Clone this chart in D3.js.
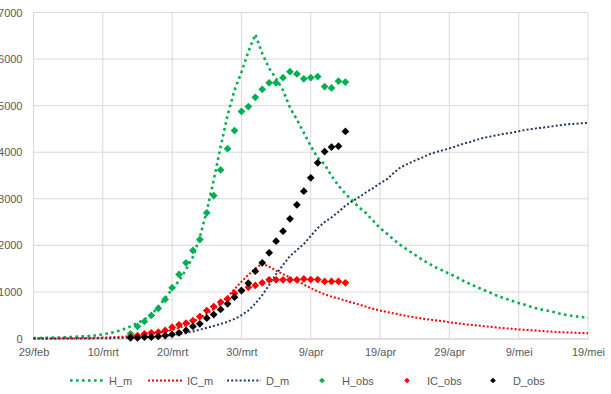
<!DOCTYPE html>
<html>
<head>
<meta charset="utf-8">
<script src="https://cdn.jsdelivr.net/npm/d3@7/dist/d3.min.js"></script>
<style>
  body { margin: 0; background: #fff; }
  svg text { font-family: "Liberation Sans", Arial, sans-serif; font-size: 11px; fill: #595959; }
</style>
</head>
<body>
<svg id="chart"></svg>
<script>
// model series, one value per day starting 29/feb
var H_m = [10, 12, 15, 18, 22, 28, 35, 45, 55, 70,
  90, 115, 150, 200, 260, 330, 410, 510, 680, 870,
  1060, 1240, 1480, 1750, 2180, 2740, 3400, 4120, 4790, 5330,
  5720, 6160, 6530, 6120, 5800, 5580, 5330, 4960, 4700, 4420,
  4130, 3880, 3740, 3490, 3280, 3110, 2960, 2810, 2690, 2530,
  2370, 2250, 2120, 2000, 1900, 1800, 1700, 1610, 1530, 1460,
  1390, 1320, 1240, 1170, 1100, 1040, 980, 910, 860, 810,
  760, 720, 670, 630, 600, 570, 530, 500, 480, 460, 450];
var IC_m = [0, 0, 0, 2, 3, 5, 7, 9, 12, 15,
  20, 25, 32, 40, 50, 62, 78, 98, 120, 150,
  185, 230, 290, 360, 440, 530, 630, 740, 900, 1060,
  1220, 1370, 1500, 1610, 1540, 1460, 1380, 1310, 1240, 1160,
  1080, 1010, 950, 900, 860, 815, 770, 730, 680, 640,
  600, 570, 540, 510, 480, 455, 430, 410, 390, 370,
  350, 330, 310, 295, 280, 265, 250, 235, 220, 210,
  195, 185, 175, 165, 155, 145, 135, 130, 125, 118, 112];
var D_m = [0, 0, 0, 0, 0, 0, 0, 1, 2, 3,
  5, 7, 10, 14, 19, 25, 33, 42, 52, 62,
  75, 95, 120, 150, 190, 230, 270, 310, 360, 420,
  500, 600, 750, 930, 1150, 1380, 1580, 1770, 1900, 2030,
  2200, 2370, 2500, 2600, 2720, 2850, 2950, 3040, 3140, 3230,
  3330, 3420, 3560, 3680, 3750, 3820, 3880, 3950, 4000, 4040,
  4080, 4130, 4180, 4220, 4270, 4310, 4340, 4370, 4400, 4420,
  4450, 4480, 4500, 4520, 4540, 4560, 4580, 4600, 4610, 4620, 4630];

// observations, one value per day starting 14/mrt
var obsStart = 14;
var H_obs = [100, 260, 365, 495, 645, 840, 1090, 1375, 1625, 1890,
  2125, 2700, 3070, 3620, 4075, 4465, 4875, 4980, 5180, 5350,
  5490, 5490, 5600, 5730, 5680, 5575, 5600, 5625, 5410, 5380, 5525, 5505];
var IC_obs = [43, 64, 100, 122, 136, 172, 243, 294, 330, 386,
  472, 600, 687, 780, 852, 973, 1030, 1100, 1140, 1195,
  1260, 1260, 1260, 1260, 1260, 1280, 1265, 1265, 1225, 1225, 1225, 1195];
var D_obs = [15, 15, 30, 30, 43, 64, 86, 122, 172, 258,
  315, 436, 515, 623, 745, 887, 1030, 1188, 1445, 1625,
  1840, 2090, 2305, 2570, 2870, 3163, 3450, 3773, 4015, 4110, 4130, 4445];

var xTicks = [0, 10, 20, 30, 40, 50, 60, 70, 80];
var xTickLabels = ["29/feb", "10/mrt", "20/mrt", "30/mrt", "9/apr", "19/apr", "29/apr", "9/mei", "19/mei"];
var yTicks = [0, 1000, 2000, 3000, 4000, 5000, 6000, 7000];

var width = 611, height = 394;

var svg = d3.select("#chart")
  .attr("width", width)
  .attr("height", height);

var x = d3.scaleLinear().domain([0, 80]).range([33.5, 588]);
var y = d3.scaleLinear().domain([0, 7000]).range([338.5, 12.5]);

// grid
svg.append("g")
  .selectAll("line.h")
  .data(yTicks.slice(1))
  .enter().append("line")
  .attr("x1", x(0)).attr("x2", x(80))
  .attr("y1", function(d) { return y(d); })
  .attr("y2", function(d) { return y(d); })
  .style("stroke", "#d9d9d9");

svg.append("g")
  .selectAll("line.v")
  .data(xTicks)
  .enter().append("line")
  .attr("x1", function(d) { return x(d); })
  .attr("x2", function(d) { return x(d); })
  .attr("y1", y(7000)).attr("y2", y(0))
  .style("stroke", "#d9d9d9");

// axes
var yAxis = svg.append("g")
  .attr("transform", "translate(" + x(0) + ",0)")
  .call(d3.axisLeft(y).tickValues(yTicks).tickSize(0).tickPadding(11).tickFormat(d3.format("d")));
yAxis.select(".domain").remove();

var xAxis = svg.append("g")
  .attr("transform", "translate(0," + y(0) + ")")
  .call(d3.axisBottom(x).tickValues(xTicks).tickSize(0).tickPadding(10)
    .tickFormat(function(d, i) { return xTickLabels[i]; }));
xAxis.select(".domain").style("stroke", "#bfbfbf");
svg.selectAll(".tick text").style("font-family", "Liberation Sans, Arial, sans-serif").style("font-size", "11px").style("fill", "#595959");

// model lines
var line = d3.line()
  .x(function(d, i) { return x(i); })
  .y(function(d) { return y(d); });

var models = [
  { name: "H_m", values: H_m, color: "#00b050", w: 2.6, dash: "2.6,3.4" },
  { name: "IC_m", values: IC_m, color: "#ff0000", w: 2, dash: "2,2" },
  { name: "D_m", values: D_m, color: "#203864", w: 2, dash: "2,2.2" }
];

models.forEach(function(m) {
  svg.append("path")
    .datum(m.values)
    .attr("d", line)
    .style("fill", "none")
    .style("stroke", m.color)
    .style("stroke-width", m.w)
    .style("stroke-dasharray", m.dash);
});

// observations as diamonds
var diamond = d3.symbol().type(d3.symbolSquare).size(30);
var obs = [
  { name: "H_obs", values: H_obs, color: "#00b050" },
  { name: "IC_obs", values: IC_obs, color: "#ff0000" },
  { name: "D_obs", values: D_obs, color: "#000000" }
];

obs.forEach(function(o) {
  svg.append("g")
    .selectAll("path")
    .data(o.values)
    .enter().append("path")
    .attr("d", diamond)
    .attr("transform", function(d, i) { return "translate(" + x(obsStart + i) + "," + y(d) + ") rotate(45)"; })
    .style("fill", o.color);
});

// legend
var legY = 380.5;
var legend = svg.append("g");
var lineItems = [
  { m: models[0], x1: 70, x2: 104, tx: 109 },
  { m: models[1], x1: 148, x2: 182, tx: 187 },
  { m: models[2], x1: 227, x2: 261, tx: 266 }
];
lineItems.forEach(function(it) {
  legend.append("line")
    .attr("x1", it.x1).attr("x2", it.x2)
    .attr("y1", legY).attr("y2", legY)
    .style("stroke", it.m.color)
    .style("stroke-width", it.m.w)
    .style("stroke-dasharray", it.m.dash);
  legend.append("text")
    .attr("x", it.tx).attr("y", legY + 4)
    .text(it.m.name);
});
var markItems = [
  { o: obs[0], mx: 322, tx: 342 },
  { o: obs[1], mx: 407, tx: 427 },
  { o: obs[2], mx: 493, tx: 513 }
];
var smallDiamond = d3.symbol().type(d3.symbolSquare).size(16);
markItems.forEach(function(it) {
  legend.append("path")
    .attr("d", smallDiamond)
    .attr("transform", "translate(" + it.mx + "," + legY + ") rotate(45)")
    .style("fill", it.o.color);
  legend.append("text")
    .attr("x", it.tx).attr("y", legY + 4)
    .text(it.o.name);
});
</script>
</body>
</html>
